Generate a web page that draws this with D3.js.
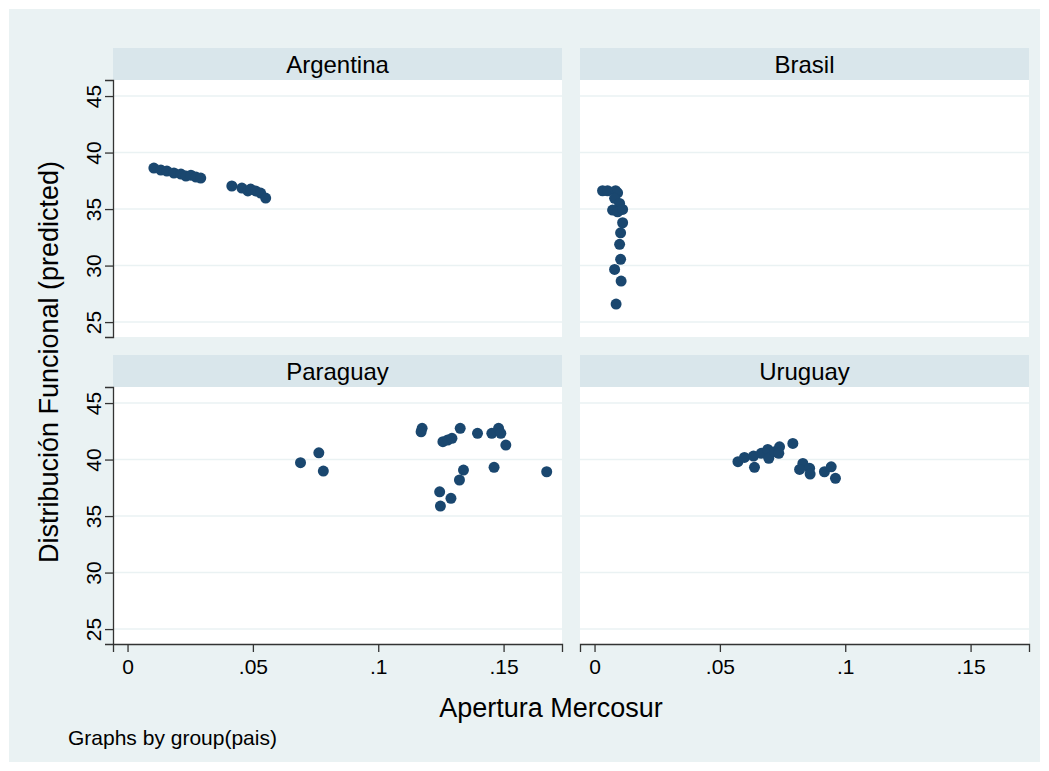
<!DOCTYPE html>
<html>
<head>
<meta charset="utf-8">
<script src="https://cdn.jsdelivr.net/npm/d3@7"></script>
<style>
  body { margin: 0; background: #fff; }
  svg text { font-family: "Liberation Sans", Arial, sans-serif; fill: #000; }
</style>
</head>
<body>
<div id="chart"></div>
<script>
var paises = ['Argentina', 'Brasil', 'Paraguay', 'Uruguay'];

// Apertura Mercosur / Distribución Funcional (predicted)
var argX = [0.0105, 0.0133, 0.0157, 0.0185, 0.0213, 0.0233, 0.0253, 0.0273, 0.0292, 0.0416, 0.0456, 0.0480, 0.0491, 0.0511, 0.0531, 0.0551];
var argY = [38.63, 38.45, 38.36, 38.19, 38.10, 37.92, 38.00, 37.83, 37.74, 37.04, 36.86, 36.60, 36.77, 36.60, 36.42, 35.97];

var braX = [0.0032, 0.0052, 0.0084, 0.0092, 0.0080, 0.0100, 0.0072, 0.0092, 0.0112, 0.0112, 0.0104, 0.0100, 0.0104, 0.0080, 0.0106, 0.0086];
var braY = [36.62, 36.62, 36.62, 36.44, 35.95, 35.50, 34.91, 34.76, 34.97, 33.79, 32.90, 31.88, 30.55, 29.66, 28.63, 26.59];

var parX = [0.0690, 0.0763, 0.0781, 0.1175, 0.1171, 0.1258, 0.1277, 0.1294, 0.1327, 0.1396, 0.1453, 0.1480, 0.1489, 0.1509, 0.1340, 0.1324, 0.1462, 0.1245, 0.1290, 0.1248, 0.1672];
var parY = [39.72, 40.60, 38.98, 42.76, 42.46, 41.58, 41.73, 41.88, 42.76, 42.32, 42.32, 42.76, 42.32, 41.28, 39.07, 38.19, 39.31, 37.15, 36.57, 35.88, 38.92];

var uruX = [0.0572, 0.0598, 0.0634, 0.0638, 0.0665, 0.0691, 0.0695, 0.0718, 0.0738, 0.0735, 0.0791, 0.0831, 0.0818, 0.0858, 0.0860, 0.0917, 0.0944, 0.0961];
var uruY = [39.81, 40.19, 40.31, 39.31, 40.55, 40.90, 40.11, 40.69, 41.13, 40.55, 41.43, 39.66, 39.13, 39.22, 38.72, 38.92, 39.36, 38.34];

var xTicks = [0, 0.05, 0.1, 0.15];
var xTickLabels = ['0', '.05', '.1', '.15'];
var yTicks = [25, 30, 35, 40, 45];

var seriesX = [argX, braX, parX, uruX];
var seriesY = [argY, braY, parY, uruY];

var width = 1049, height = 771;
var bgColor = '#eaf2f3';   //外框底色
var stripColor = '#d9e6eb'; //标题条
var gridColor = '#eaf2f3';
var markColor = '#1a476f';
var fontStack = '"Liberation Sans", Arial, sans-serif';

var svg = d3.select('#chart').append('svg')
  .attr('width', width).attr('height', height);

svg.append('rect').attr('x', 9).attr('y', 9)
  .attr('width', 1031).attr('height', 753).attr('fill', bgColor);

// panel geometry
var colX = [113, 580];
var rowY = [48, 355];
var panelW = 449, stripH = 32, plotH = 257;

var x = d3.scaleLinear().domain([-0.0058, 0.1733]).range([0, panelW]);
var y = d3.scaleLinear().domain([23.68, 46.42]).range([plotH, 0]);

paises.forEach(function(name, i) {
  var col = i % 2, row = Math.floor(i / 2);
  var g = svg.append('g')
    .attr('transform', 'translate(' + colX[col] + ',' + rowY[row] + ')');

  g.append('rect').attr('width', panelW).attr('height', stripH).attr('fill', stripColor);
  g.append('text').attr('x', panelW / 2).attr('y', 25)
    .attr('text-anchor', 'middle').style('font-size', '24px').text(name);

  var p = g.append('g').attr('transform', 'translate(0,' + stripH + ')');
  p.append('rect').attr('width', panelW).attr('height', plotH).attr('fill', '#fff');

  //网格线
  p.selectAll('.grid').data(yTicks).enter().append('line')
    .attr('x1', 0).attr('x2', panelW)
    .attr('y1', function(d) { return y(d); })
    .attr('y2', function(d) { return y(d); })
    .attr('stroke', gridColor).attr('stroke-width', 1.5);

  var pts = seriesX[i].map(function(v, k) { return [v, seriesY[i][k]]; });
  p.selectAll('circle').data(pts).enter().append('circle')
    .attr('cx', function(d) { return x(d[0]); })
    .attr('cy', function(d) { return y(d[1]); })
    .attr('r', 5.5)
    .attr('fill', markColor);

  if (col == 0) {
    var yAxis = p.append('g')
      .call(d3.axisLeft(y).tickValues(yTicks).tickSize(8).tickFormat(d3.format('d')));
    yAxis.select('.domain').attr('stroke', '#333').attr('stroke-width', 1.3);
    yAxis.selectAll('.tick line').attr('stroke', '#333').attr('stroke-width', 1.3);
    yAxis.selectAll('.tick text')
      .attr('x', 0).attr('dy', 0).attr('y', 0)
      .attr('text-anchor', 'middle')
      .attr('transform', 'translate(-12,0)rotate(-90)')
      .style('font-size', '21px').style('font-family', fontStack)
      .attr('fill', '#000');
  }
  if (row == 1) {
    var xAxis = p.append('g').attr('transform', 'translate(0,' + plotH + ')')
      .call(d3.axisBottom(x).tickValues(xTicks).tickSize(8)
        .tickFormat(function(d, k) { return xTickLabels[k]; }));
    xAxis.select('.domain').attr('stroke', '#333').attr('stroke-width', 1.3);
    xAxis.selectAll('.tick line').attr('stroke', '#333').attr('stroke-width', 1.3);
    xAxis.selectAll('.tick text')
      .attr('y', 15).attr('dy', '0.71em')
      .style('font-size', '21px').style('font-family', fontStack)
      .attr('fill', '#000');
  }
});

//轴标题
svg.append('text')
  .attr('transform', 'translate(58,362)rotate(-90)')
  .attr('text-anchor', 'middle').style('font-size', '27px')
  .text('Distribución Funcional (predicted)');

svg.append('text').attr('x', 551).attr('y', 717)
  .attr('text-anchor', 'middle').style('font-size', '27px')
  .text('Apertura Mercosur');

svg.append('text').attr('x', 68).attr('y', 745)
  .style('font-size', '21px').text('Graphs by group(pais)');
</script>
</body>
</html>
